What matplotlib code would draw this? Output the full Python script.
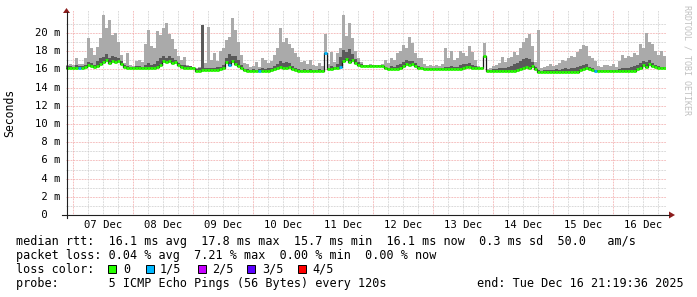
import numpy as np
import matplotlib
matplotlib.use("Agg")
import matplotlib.pyplot as plt
import matplotlib.dates as mdates
from matplotlib.lines import Line2D
from matplotlib.patches import Polygon, Rectangle
from matplotlib.transforms import blended_transform_factory
from datetime import datetime, timedelta

# ----- data (ms), one sample per 72 minutes, 10 days ending at "end"
end = datetime(2025, 12, 16, 21, 19, 36)
step_min = 72

median_rtt = [
    16.15, 16.15, 16.10, 16.20, 16.20, 16.20, 16.30, 16.50, 16.40, 16.30,
    16.40, 16.60, 16.80, 17.00, 16.70, 16.90, 16.80, 16.90, 16.60, 16.30,
    16.20, 16.15, 16.15, 16.15, 16.15, 16.15, 16.15, 16.15, 16.15, 16.20,
    16.30, 16.50, 16.90, 16.80, 16.90, 16.70, 16.80, 16.50, 16.30, 16.20,
    16.20, 16.20, 16.10, 15.80, 15.85, 15.90, 15.90, 15.90, 15.90, 15.90,
    15.90, 16.00, 16.20, 16.80, 16.50, 16.90, 16.60, 16.40, 16.10, 15.90,
    15.80, 15.80, 15.80, 15.80, 15.80, 15.80, 15.80, 15.85, 15.90, 16.00,
    16.10, 16.30, 16.20, 16.10, 16.30, 16.00, 15.90, 15.80, 15.80, 15.80,
    15.80, 15.80, 15.80, 15.80, 15.80, 15.80, 17.80, 16.00, 16.00, 16.10,
    16.10, 16.30, 16.90, 17.10, 16.80, 17.00, 16.70, 16.50, 16.40, 16.40,
    16.40, 16.40, 16.40, 16.40, 16.40, 16.40, 16.10, 16.05, 16.05, 16.05,
    16.05, 16.20, 16.40, 16.60, 16.50, 16.60, 16.40, 16.20, 16.10, 16.00,
    16.00, 16.00, 16.00, 16.00, 16.00, 16.00, 16.00, 16.00, 16.00, 16.00,
    16.00, 16.00, 16.20, 16.30, 16.30, 16.20, 16.15, 16.15, 16.15, 17.50,
    15.80, 15.80, 15.80, 15.80, 15.80, 15.80, 15.80, 15.80, 15.80, 15.85,
    15.90, 16.00, 16.10, 16.30, 16.20, 16.40, 16.00, 15.75, 15.75, 15.75,
    15.75, 15.75, 15.75, 15.75, 15.75, 15.75, 15.75, 15.75, 15.75, 15.75,
    15.75, 15.90, 16.00, 16.10, 16.00, 15.90, 15.80, 15.80, 15.80, 15.80,
    15.80, 15.80, 15.80, 15.80, 15.85, 15.85, 15.85, 15.85, 15.85, 15.85,
    16.00, 16.20, 16.50, 16.30, 16.60, 16.40, 16.30, 16.20, 16.15, 16.15,
]

smoke_max = [
    16.5, 16.6, 16.5, 17.3, 16.6, 16.6, 17.2, 19.5, 18.3, 17.6,
    18.5, 19.5, 22.0, 20.5, 21.4, 19.8, 20.0, 19.0, 17.6, 16.7,
    17.8, 16.5, 16.4, 16.9, 17.0, 16.8, 18.8, 20.3, 18.6, 18.4,
    20.2, 19.8, 20.6, 21.1, 19.9, 19.3, 18.2, 17.5, 17.0, 17.4,
    16.5, 16.4, 16.3, 16.2, 16.3, 20.9, 16.7, 20.7, 17.0, 17.8,
    16.9, 18.0, 18.4, 19.2, 19.6, 21.6, 20.3, 19.0, 17.6, 16.7,
    16.6, 16.3, 16.4, 16.8, 16.3, 17.2, 17.0, 16.7, 16.9, 17.6,
    18.4, 20.5, 19.0, 19.4, 18.8, 18.4, 17.8, 17.4, 16.8, 16.9,
    16.6, 17.0, 16.5, 16.4, 16.7, 16.4, 19.9, 16.6, 17.9, 16.8,
    17.8, 18.4, 22.0, 19.7, 21.1, 19.4, 18.0, 17.3, 16.8, 16.5,
    16.5, 16.6, 16.5, 16.5, 16.5, 16.6, 17.0, 16.7, 17.2, 17.0,
    17.8, 18.0, 18.7, 18.4, 19.6, 18.9, 17.8, 17.3, 17.3, 16.6,
    16.4, 16.5, 16.4, 16.5, 16.4, 16.6, 18.3, 17.2, 18.0, 17.0,
    17.3, 18.0, 17.8, 17.5, 18.6, 17.9, 17.0, 16.4, 16.2, 18.9,
    16.0, 16.1, 16.4, 16.5, 16.7, 17.4, 16.8, 17.3, 17.4, 17.9,
    17.6, 18.3, 19.0, 19.4, 19.9, 18.6, 16.8, 20.3, 16.1, 16.3,
    16.4, 16.6, 16.4, 16.5, 16.7, 17.0, 16.9, 17.3, 17.5, 17.4,
    17.9, 18.2, 18.7, 18.6, 17.5, 17.3, 16.9, 16.4, 16.3, 16.5,
    16.5, 16.4, 16.6, 16.3, 16.9, 17.6, 17.2, 17.5, 17.4, 17.8,
    17.6, 18.8, 18.3, 20.0, 19.0, 18.8, 18.0, 17.6, 18.0, 17.5,
]

smoke_inner = [
    16.35, 16.35, 16.30, 16.45, 16.40, 16.40, 16.50, 16.80, 16.70, 16.50,
    16.90, 17.20, 17.40, 17.70, 17.30, 17.50, 17.40, 17.30, 16.90, 16.50,
    16.40, 16.30, 16.30, 16.35, 16.35, 16.30, 16.50, 16.70, 16.50, 16.60,
    16.90, 17.20, 17.50, 17.30, 17.50, 17.20, 17.00, 16.70, 16.45, 16.50,
    16.35, 16.35, 16.25, 16.05, 16.10, 20.90, 16.15, 16.20, 16.20, 16.15,
    16.30, 16.25, 16.50, 17.30, 17.70, 17.50, 17.50, 17.00, 16.50, 16.05,
    16.00, 15.95, 16.00, 15.95, 16.00, 16.10, 16.00, 16.10, 16.20, 16.40,
    16.60, 16.90, 16.70, 16.80, 16.70, 16.40, 16.20, 16.00, 15.95, 16.00,
    15.95, 16.00, 15.95, 15.95, 16.00, 15.95, 17.80, 16.20, 16.40, 16.30,
    16.60, 17.40, 18.10, 17.90, 18.20, 17.70, 17.10, 16.80, 16.55, 16.50,
    16.50, 16.50, 16.50, 16.50, 16.50, 16.50, 16.30, 16.20, 16.35, 16.30,
    16.50, 16.60, 16.80, 17.00, 16.90, 16.90, 16.70, 16.40, 16.25, 16.15,
    16.15, 16.15, 16.15, 16.15, 16.15, 16.20, 16.30, 16.25, 16.40, 16.25,
    16.30, 16.50, 16.60, 16.55, 16.70, 16.50, 16.35, 16.25, 16.20, 17.50,
    15.95, 15.95, 16.00, 16.05, 16.10, 16.20, 16.10, 16.30, 16.40, 16.60,
    16.70, 16.90, 17.10, 17.30, 17.10, 16.80, 16.30, 15.95, 15.85, 15.90,
    15.90, 15.95, 15.95, 16.00, 15.95, 16.00, 16.10, 16.00, 16.10, 16.20,
    16.30, 16.40, 16.50, 16.60, 16.30, 16.10, 15.95, 15.95, 15.90, 15.95,
    15.95, 15.90, 15.95, 15.95, 16.00, 16.10, 16.10, 16.20, 16.30, 16.40,
    16.50, 16.70, 16.90, 16.80, 17.00, 16.70, 16.50, 16.35, 16.25, 16.25,
]

# samples where 1 of 5 pings was lost
loss_1of5 = [4, 54, 64, 86, 91, 176]

loss_labels = ["0", "1/5", "2/5", "3/5", "4/5"]
loss_colors = ["#26ff00", "#00b8ff", "#c600ff", "#5a00ff", "#ff0000"]

ytick_vals = [0, 2, 4, 6, 8, 10, 12, 14, 16, 18, 20]
day_labels = ["07 Dec", "08 Dec", "09 Dec", "10 Dec", "11 Dec",
              "12 Dec", "13 Dec", "14 Dec", "15 Dec", "16 Dec"]

median_line = "median rtt:  16.1 ms avg  17.8 ms max  15.7 ms min  16.1 ms now  0.3 ms sd  50.0   am/s"
loss_line = "packet loss: 0.04 % avg  7.21 % max  0.00 % min  0.00 % now"
probe_line = "probe:       5 ICMP Echo Pings (56 Bytes) every 120s"
end_label = "end: Tue Dec 16 21:19:36 2025"

# ----- figure
W, H = 697, 297
MONO = "DejaVu Sans Mono"
plt.rcParams["font.family"] = MONO

fig = plt.figure(figsize=(W / 100, H / 100), dpi=100)
fig.patch.set_facecolor("white")
ax = fig.add_axes([66 / W, (H - 215) / H, 600 / W, 204.75 / H])
ax.set_axis_off()

n = len(median_rtt)
start = end - timedelta(minutes=step_min * n)
edges = mdates.date2num([start + timedelta(minutes=step_min * k) for k in range(n + 1)])
ax.set_xlim(edges[0], edges[-1])
ax.set_ylim(0, 22.5)

med = np.array(median_rtt)
smax = np.array(smoke_max)
sinn = np.array(smoke_inner)

def ext(a):
    return np.append(a, a[-1])

# grid
dots = (0, (0.7, 0.9))
for m in range(1, 22):
    if m % 2 == 0:
        ax.axhline(m, color="#f0a0a0", lw=0.7, ls=dots, zorder=1)
    else:
        ax.axhline(m, color="#c8c8c8", lw=0.7, ls=dots, zorder=1)
day0 = datetime(2025, 12, 7)
for k in range(40):
    t = day0 + timedelta(hours=6 * k)
    if t > end:
        break
    c = "#f0a0a0" if k % 4 == 0 else "#c8c8c8"
    ax.axvline(mdates.date2num(t), color=c, lw=0.7, ls=dots, zorder=1)

# smoke
ax.fill_between(edges, ext(med), ext(smax), step="post", color="#aaaaaa", lw=0, zorder=2)
ax.fill_between(edges, ext(med), ext(sinn), step="post", color="#5a5a5a", lw=0, zorder=3)

# median: black connector then loss-coloured bars
ax.step(edges, ext(med), where="post", color="#1a1a1a", lw=0.9, zorder=4)
cols = [loss_colors[1] if i in loss_1of5 else loss_colors[0] for i in range(n)]
ax.hlines(med, edges[:-1], edges[1:], colors=cols, lw=2.0, zorder=5)

# y tick labels
ty = blended_transform_factory(ax.transAxes, ax.transData)
for v in ytick_vals:
    s = f"{v:2d} m" if v else " 0"
    ax.text((35 - 66) / 600, v, s, transform=ty, ha="left", va="center",
            fontsize=7.6, color="#000000")

# x tick labels at noon
tx = blended_transform_factory(ax.transData, fig.transFigure)
for k, lab in enumerate(day_labels):
    t = mdates.date2num(day0 + timedelta(days=k, hours=12))
    ax.text(t, 1 - 224.5 / H, lab, transform=tx, ha="center", va="center",
            fontsize=7.6)

def fx(x):
    return x / W

def fy(y):
    return 1 - y / H

# axes lines and arrows
fig.add_artist(Line2D([fx(62), fx(669)], [fy(215), fy(215)], color="#202020", lw=0.8))
fig.add_artist(Line2D([fx(66.5), fx(66.5)], [fy(218), fy(12)], color="#202020", lw=0.8))
arrow_c = "#8c1c1c"
fig.add_artist(Polygon([(fx(63), fy(13)), (fx(70), fy(13)), (fx(66.5), fy(8))],
                       closed=True, color=arrow_c, lw=0))
fig.add_artist(Polygon([(fx(669), fy(211.5)), (fx(669), fy(218.5)), (fx(675), fy(215))],
                       closed=True, color=arrow_c, lw=0))

fig.text(fx(10), fy(113), "Seconds", rotation=90, ha="center", va="center", fontsize=8.3)
fig.text(fx(687.5), fy(5), "RRDTOOL / TOBI OETIKER", rotation=270, ha="center", va="top",
         fontsize=6, color="#c0c0c0")

# legend
fs = 8.5
rows = [241.3, 255.3, 269.3, 283.7]
fig.text(fx(16), fy(rows[0]), median_line, fontsize=fs, va="center")
fig.text(fx(16), fy(rows[1]), loss_line, fontsize=fs, va="center")
fig.text(fx(16), fy(rows[2]), "loss color:", fontsize=fs, va="center")
box_x = [108.3, 145.7, 197.7, 247.3, 298.3]
lab_x = [123.3, 160.0, 211.7, 261.7, 312.7]
for bx, lx, c, lab in zip(box_x, lab_x, loss_colors, loss_labels):
    fig.add_artist(Rectangle((fx(bx), fy(rows[2] + 4)), 8 / W, 8 / H,
                             facecolor=c, edgecolor="#000000", lw=0.7))
    fig.text(fx(lx), fy(rows[2]), lab, fontsize=fs, va="center")
fig.text(fx(16), fy(rows[3]), probe_line, fontsize=fs, va="center")
fig.text(fx(477.3), fy(rows[3]), end_label, fontsize=fs, va="center")

fig.savefig("out.png", dpi=100)
